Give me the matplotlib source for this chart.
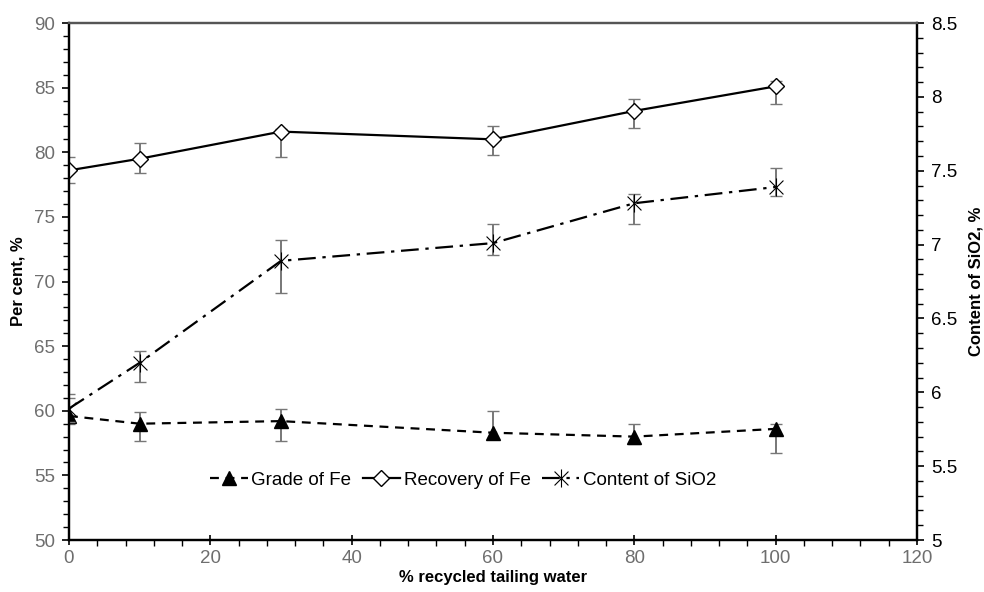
import numpy as np
import matplotlib
matplotlib.use("Agg")
import matplotlib.pyplot as plt
from matplotlib.path import Path
from matplotlib.ticker import MultipleLocator

plt.rcParams['font.family'] = ['Liberation Sans', 'DejaVu Sans']

# data
water = [0, 10, 30, 60, 80, 100]
grade_fe = [59.6, 59.0, 59.2, 58.3, 58.0, 58.6]
grade_lo = [59.0, 57.7, 57.7, 57.8, 57.4, 56.7]
grade_hi = [61.0, 59.9, 60.1, 60.0, 59.0, 59.0]
recovery_fe = [78.6, 79.5, 81.6, 81.0, 83.2, 85.1]
recovery_lo = [77.6, 78.4, 79.6, 79.8, 81.9, 83.7]
recovery_hi = [79.6, 80.7, 81.8, 82.0, 84.1, 85.5]
sio2 = [5.89, 6.20, 6.89, 7.01, 7.28, 7.39]
sio2_lo = [5.80, 6.07, 6.67, 6.93, 7.14, 7.33]
sio2_hi = [5.99, 6.28, 7.03, 7.14, 7.34, 7.52]

star = Path([(-1, -1), (1, 1), (-1, 1), (1, -1), (0, -1.3), (0, 1.3)],
            [Path.MOVETO, Path.LINETO, Path.MOVETO, Path.LINETO, Path.MOVETO, Path.LINETO])

fig = plt.figure(figsize=(9.84, 5.92), dpi=100)
ax = fig.add_axes([0.0701, 0.0878, 0.8618, 0.8733])
ax2 = ax.twinx()

def err(vals, lo, hi):
    v = np.array(vals)
    return [v - np.array(lo), np.array(hi) - v]

ebkw = dict(ecolor='#777777', elinewidth=1.4, capsize=4.5, capthick=1.0)

ax.errorbar(water, grade_fe, yerr=err(grade_fe, grade_lo, grade_hi), fmt='none', zorder=2, **ebkw)
ax.errorbar(water, recovery_fe, yerr=err(recovery_fe, recovery_lo, recovery_hi), fmt='none', zorder=2, **ebkw)
ax2.errorbar(water, sio2, yerr=err(sio2, sio2_lo, sio2_hi), fmt='none', zorder=2, **ebkw)

l1, = ax.plot(water, grade_fe, color='black', linestyle=(0, (4, 3)), lw=1.6,
              marker='^', markersize=9.5, markerfacecolor='black', zorder=3, label='Grade of Fe')
l2, = ax.plot(water, recovery_fe, color='black', linestyle='-', lw=1.6,
              marker='D', markersize=8, markerfacecolor='white', markeredgewidth=1.0, zorder=3,
              label='Recovery of Fe')
l3, = ax2.plot(water, sio2, color='black', linestyle=(0, (8, 3, 1.5, 3)), lw=1.6,
               marker=star, markersize=13, markeredgewidth=0.8, zorder=3, label='Content of SiO2')

ax.set_xlim(0, 120)
ax.set_ylim(50, 90)
ax2.set_ylim(5, 8.5)
ax.xaxis.set_major_locator(MultipleLocator(20))
ax.xaxis.set_minor_locator(MultipleLocator(4))
ax.yaxis.set_major_locator(MultipleLocator(5))
ax.yaxis.set_minor_locator(MultipleLocator(1))
ax2.yaxis.set_minor_locator(MultipleLocator(0.1))
ax2.set_yticks([5, 5.5, 6, 6.5, 7, 7.5, 8, 8.5])
ax2.set_yticklabels(['5', '5.5', '6', '6.5', '7', '7.5', '8', '8.5'])

ax.tick_params(axis='x', which='major', direction='inout', length=7, width=1.2,
               labelsize=13.5, labelcolor='#6e6e6e', pad=4)
ax.tick_params(axis='x', which='minor', direction='out', length=4, width=1.0)
ax.tick_params(axis='y', which='major', direction='out', length=5, width=1.2,
               labelsize=13.5, labelcolor='#6e6e6e', pad=5)
ax.tick_params(axis='y', which='minor', direction='out', length=4, width=1.0)
ax2.tick_params(axis='y', which='major', direction='out', length=5, width=1.2,
                labelsize=13.5, labelcolor='black', pad=5)
ax2.tick_params(axis='y', which='minor', direction='out', length=4, width=1.0)

for a in (ax, ax2):
    for s in a.spines.values():
        s.set_linewidth(1.6)
ax.spines['top'].set_color('#555555')
ax2.spines['top'].set_color('#555555')

ax.set_xlabel('% recycled tailing water', fontsize=12, fontweight='bold', labelpad=2)
ax.set_ylabel('Per cent, %', fontsize=12, fontweight='bold', labelpad=6)
ax2.set_ylabel('Content of SiO2, %', fontsize=12, fontweight='bold', rotation=90, labelpad=8)

ax.legend(handles=[l1, l2, l3], loc='center', bbox_to_anchor=(0.465, 0.116), ncol=3,
          frameon=False, fontsize=13.5, handlelength=2.0, handletextpad=0.2, columnspacing=0.6)

fig.savefig('out.png', dpi=100)
